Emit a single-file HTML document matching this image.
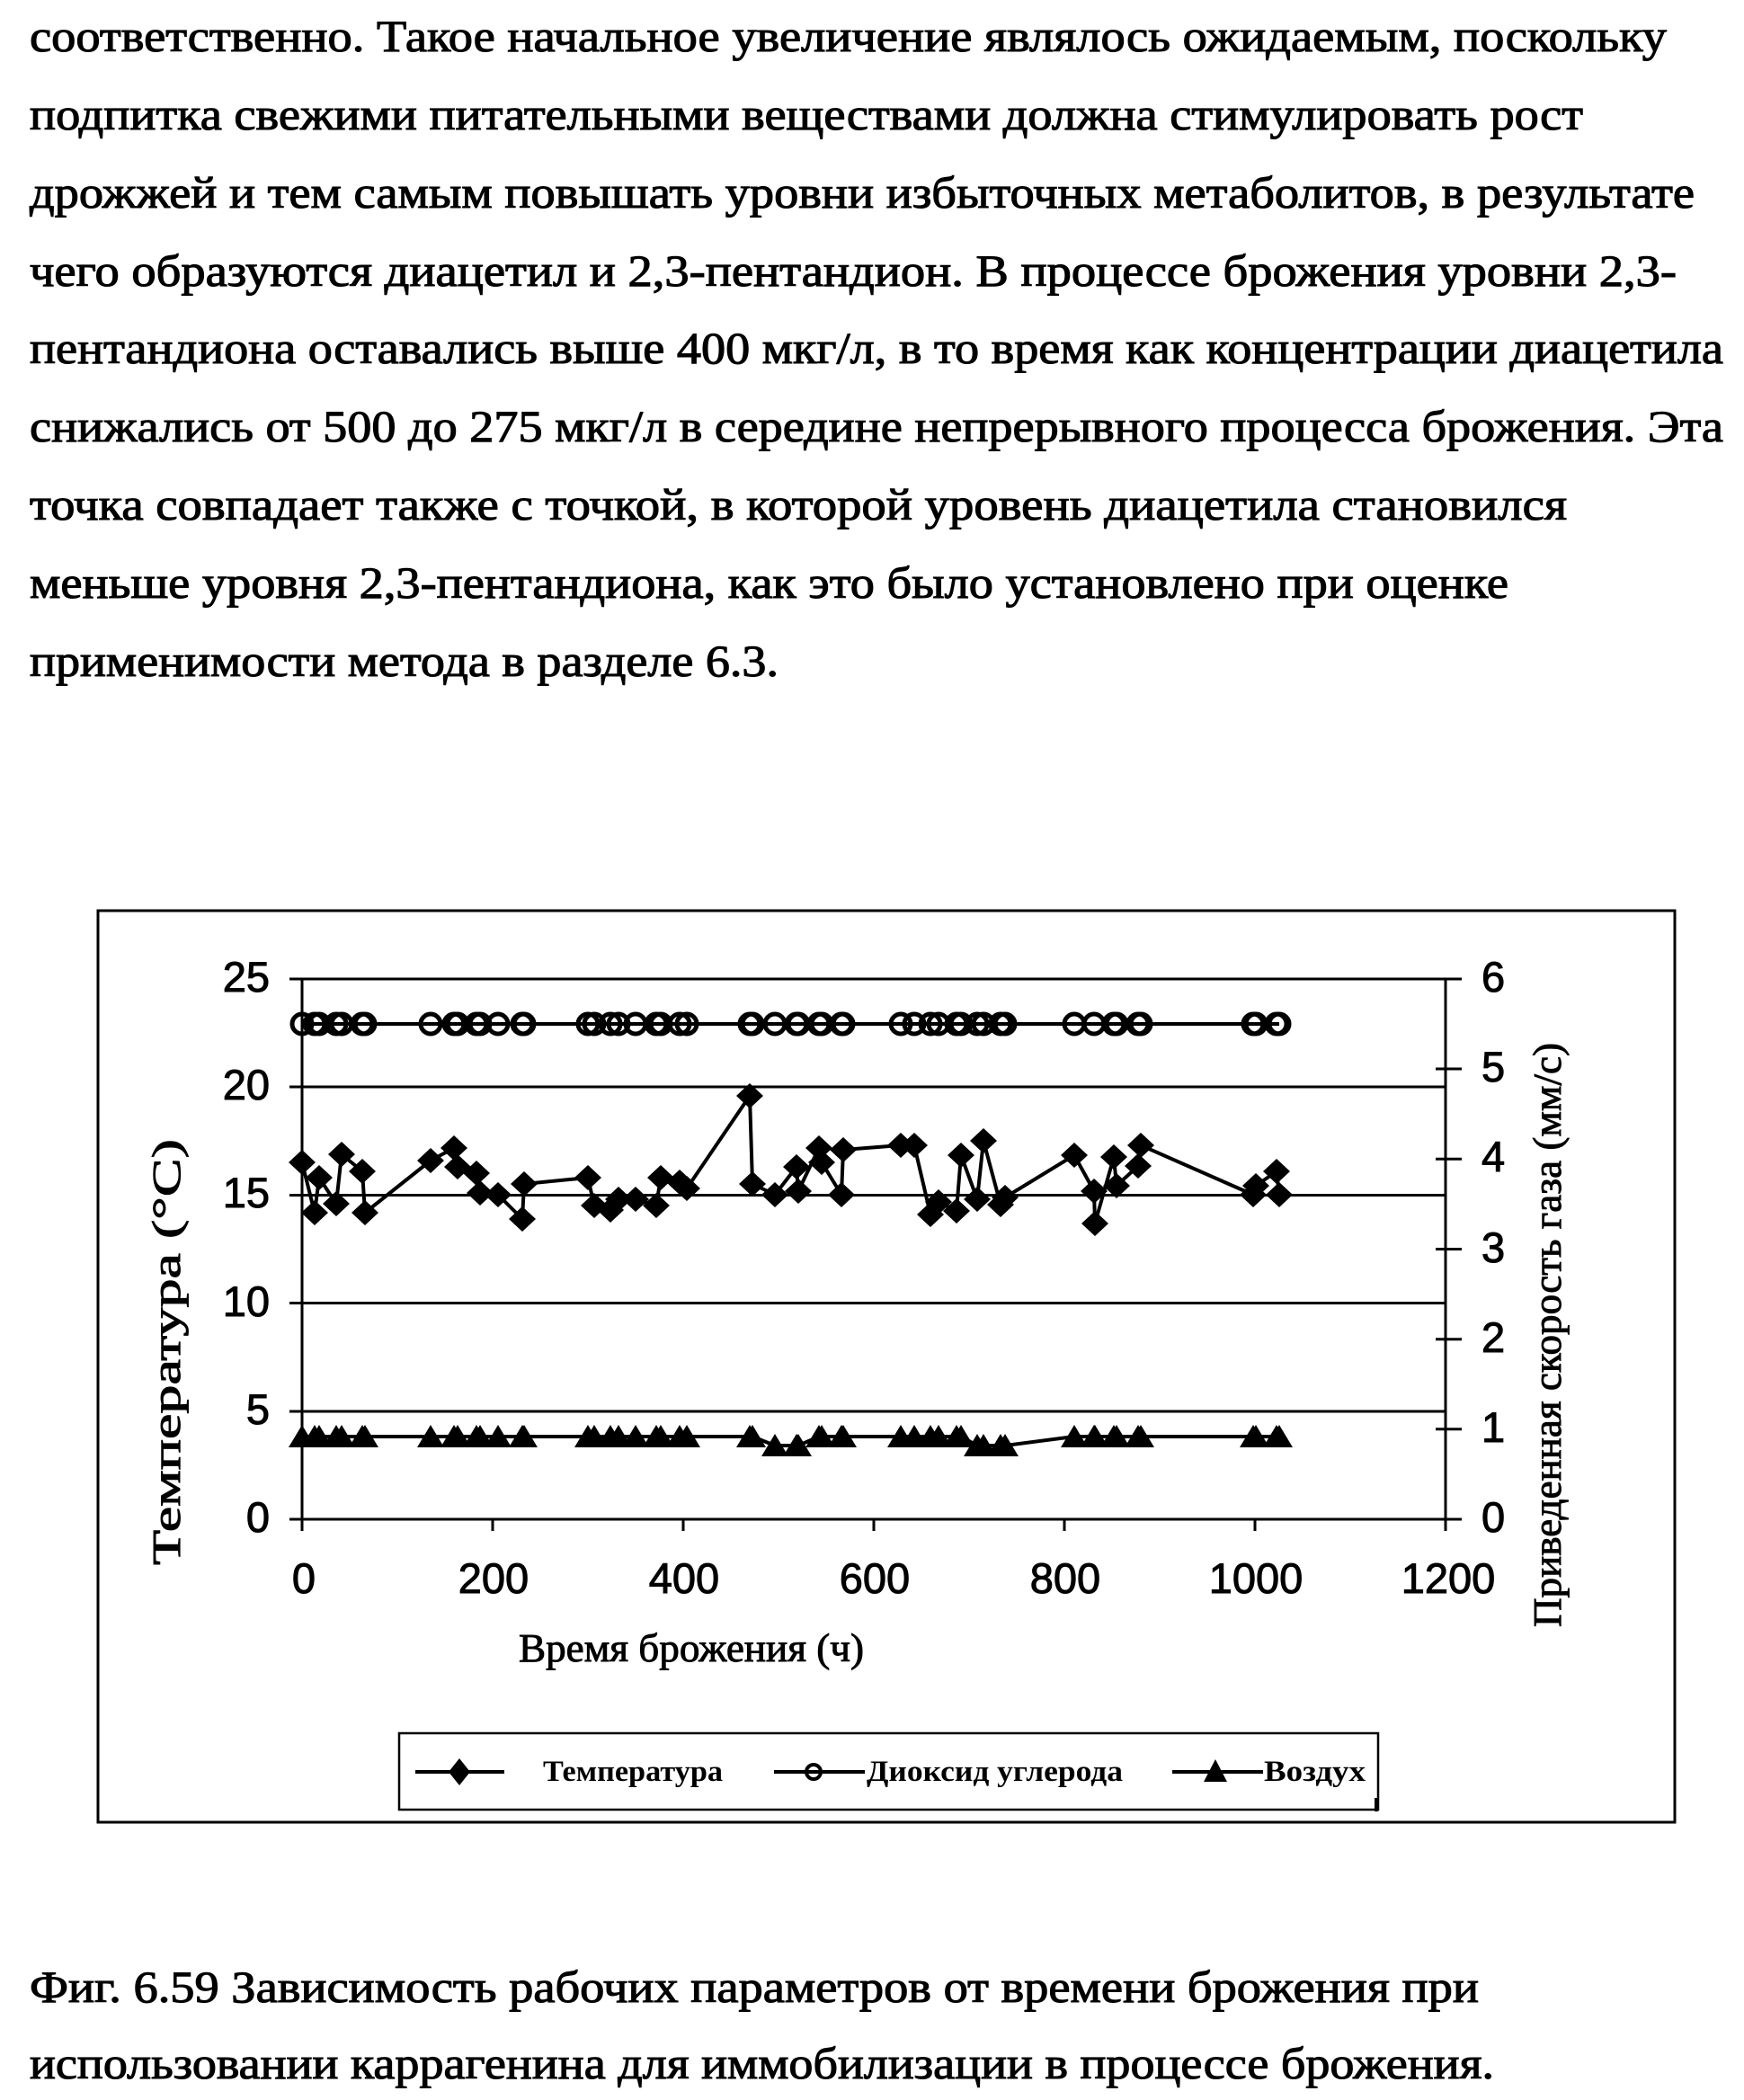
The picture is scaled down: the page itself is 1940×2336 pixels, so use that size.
<!DOCTYPE html>
<html>
<head>
<meta charset="utf-8">
<style>
html,body{margin:0;padding:0;background:#fff;}
svg{display:block;}
</style>
</head>
<body>
<svg width="1940" height="2336" viewBox="0 0 1940 2336" xmlns="http://www.w3.org/2000/svg">
<rect x="0" y="0" width="1940" height="2336" fill="#fff"/>

<!-- Body text -->
<g font-family="'Liberation Serif', 'Noto Serif CJK SC', serif" font-size="50" fill="#000" stroke="#000" stroke-width="1.1">
<text x="33" y="57" textLength="1821" lengthAdjust="spacingAndGlyphs">соответственно. Такое начальное увеличение являлось ожидаемым, поскольку</text>
<text x="33" y="144" textLength="1728" lengthAdjust="spacingAndGlyphs">подпитка свежими питательными веществами должна стимулировать рост</text>
<text x="33" y="231" textLength="1852" lengthAdjust="spacingAndGlyphs">дрожжей и тем самым повышать уровни избыточных метаболитов, в результате</text>
<text x="33" y="318" textLength="1832" lengthAdjust="spacingAndGlyphs">чего образуются диацетил и 2,3-пентандион. В процессе брожения уровни 2,3-</text>
<text x="33" y="404" textLength="1884" lengthAdjust="spacingAndGlyphs">пентандиона оставались выше 400 мкг/л, в то время как концентрации диацетила</text>
<text x="33" y="491" textLength="1884" lengthAdjust="spacingAndGlyphs">снижались от 500 до 275 мкг/л в середине непрерывного процесса брожения. Эта</text>
<text x="33" y="578" textLength="1710" lengthAdjust="spacingAndGlyphs">точка совпадает также с точкой, в которой уровень диацетила становился</text>
<text x="33" y="665" textLength="1645" lengthAdjust="spacingAndGlyphs">меньше уровня 2,3-пентандиона, как это было установлено при оценке</text>
<text x="33" y="752" textLength="833" lengthAdjust="spacingAndGlyphs">применимости метода в разделе 6.3.</text>

<text x="33" y="2227" textLength="1612" lengthAdjust="spacingAndGlyphs">Фиг. 6.59 Зависимость рабочих параметров от времени брожения при</text>
<text x="33" y="2312" textLength="1629" lengthAdjust="spacingAndGlyphs">использовании каррагенина для иммобилизации в процессе брожения.</text>
</g>

<!-- Chart outer box -->
<rect x="109" y="1013" width="1754" height="1014" fill="none" stroke="#000" stroke-width="3"/>

<!-- Gridlines -->
<g stroke="#000" stroke-width="3" fill="none">
<line x1="322" y1="1089" x2="1608" y2="1089"/>
<line x1="322" y1="1209" x2="1608" y2="1209"/>
<line x1="322" y1="1329.5" x2="1608" y2="1329.5"/>
<line x1="322" y1="1449.5" x2="1608" y2="1449.5"/>
<line x1="322" y1="1570" x2="1608" y2="1570"/>
<!-- axes -->
<line x1="336" y1="1087.5" x2="336" y2="1703"/>
<line x1="322" y1="1690" x2="1626" y2="1690"/>
<line x1="1608" y1="1087.5" x2="1608" y2="1703"/>
<!-- x ticks -->
<line x1="548" y1="1690" x2="548" y2="1703"/>
<line x1="760" y1="1690" x2="760" y2="1703"/>
<line x1="972" y1="1690" x2="972" y2="1703"/>
<line x1="1184" y1="1690" x2="1184" y2="1703"/>
<line x1="1396" y1="1690" x2="1396" y2="1703"/>
<!-- right ticks -->
<line x1="1597" y1="1089" x2="1626" y2="1089"/>
<line x1="1597" y1="1189" x2="1626" y2="1189"/>
<line x1="1597" y1="1289.3" x2="1626" y2="1289.3"/>
<line x1="1597" y1="1389.5" x2="1626" y2="1389.5"/>
<line x1="1597" y1="1489.7" x2="1626" y2="1489.7"/>
<line x1="1597" y1="1589.8" x2="1626" y2="1589.8"/>
</g>

<!-- Tick labels -->
<g font-family="'Liberation Sans', Arial, sans-serif" font-size="47" fill="#000" stroke="#000" stroke-width="1">
<text x="300" y="1103" text-anchor="end">25</text>
<text x="300" y="1223" text-anchor="end">20</text>
<text x="300" y="1343" text-anchor="end">15</text>
<text x="300" y="1464" text-anchor="end">10</text>
<text x="300" y="1584" text-anchor="end">5</text>
<text x="300" y="1704" text-anchor="end">0</text>

<text x="1648" y="1103">6</text>
<text x="1648" y="1203">5</text>
<text x="1648" y="1303">4</text>
<text x="1648" y="1404">3</text>
<text x="1648" y="1504">2</text>
<text x="1648" y="1604">1</text>
<text x="1648" y="1704">0</text>

<text x="338" y="1772" text-anchor="middle">0</text>
<text x="549" y="1772" text-anchor="middle">200</text>
<text x="761" y="1772" text-anchor="middle">400</text>
<text x="973" y="1772" text-anchor="middle">600</text>
<text x="1185" y="1772" text-anchor="middle">800</text>
<text x="1397" y="1772" text-anchor="middle">1000</text>
<text x="1611" y="1772" text-anchor="middle">1200</text>
</g>

<!-- Axis titles -->
<g font-family="'Liberation Serif', 'Noto Serif CJK SC', serif" font-size="44" fill="#000" stroke="#000" stroke-width="0.9">
<text x="769" y="1848" text-anchor="middle" textLength="384" lengthAdjust="spacingAndGlyphs">Время брожения (ч)</text>
<text transform="translate(200,1504) rotate(-90)" x="0" y="0" text-anchor="middle" textLength="474" lengthAdjust="spacingAndGlyphs">Температура (°C)</text>
<text transform="translate(1736,1485) rotate(-90)" x="0" y="0" text-anchor="middle" textLength="650" lengthAdjust="spacingAndGlyphs">Приведенная скорость газа (мм/с)</text>
</g>

<!-- Series lines -->
<g fill="none" stroke="#000" stroke-width="4" stroke-linejoin="round">
<polyline points="336,1293 350,1349 355,1310 374,1339 380,1284 403,1303 406,1349 479,1291 505,1277 509,1298 530,1305 534,1327 554,1329 581,1356 583,1317 654,1310 661,1341 679,1346 688,1334 707,1334 730,1341 735,1310 756,1315 764,1322 834,1219 837,1317 862,1329 886,1298 888,1325 911,1277 914,1293 936,1329 938,1279 1002,1274 1017,1274 1035,1351 1044,1337 1064,1347 1069,1285 1087,1334 1094,1269 1113,1340 1118,1332 1195,1285 1217,1325 1218,1361 1239,1287 1242,1319 1266,1297 1269,1274 1394,1329 1397,1319 1420,1303 1423,1329"/>
<line x1="336" y1="1139" x2="1423" y2="1139"/>
<polyline points="336,1598 837,1598 862,1608 888,1608 911,1598 1069,1598 1087,1608 1118,1608 1195,1598 1423,1598"/>
</g>

<!-- Diamonds -->
<path fill="#000" d="M336,1279l15,14l-15,14l-15,-14zM350,1335l15,14l-15,14l-15,-14zM355,1296l15,14l-15,14l-15,-14zM374,1325l15,14l-15,14l-15,-14zM380,1270l15,14l-15,14l-15,-14zM403,1289l15,14l-15,14l-15,-14zM406,1335l15,14l-15,14l-15,-14zM479,1277l15,14l-15,14l-15,-14zM505,1263l15,14l-15,14l-15,-14zM509,1284l15,14l-15,14l-15,-14zM530,1291l15,14l-15,14l-15,-14zM534,1313l15,14l-15,14l-15,-14zM554,1315l15,14l-15,14l-15,-14zM581,1342l15,14l-15,14l-15,-14zM583,1303l15,14l-15,14l-15,-14zM654,1296l15,14l-15,14l-15,-14zM661,1327l15,14l-15,14l-15,-14zM679,1332l15,14l-15,14l-15,-14zM688,1320l15,14l-15,14l-15,-14zM707,1320l15,14l-15,14l-15,-14zM730,1327l15,14l-15,14l-15,-14zM735,1296l15,14l-15,14l-15,-14zM756,1301l15,14l-15,14l-15,-14zM764,1308l15,14l-15,14l-15,-14zM834,1205l15,14l-15,14l-15,-14zM837,1303l15,14l-15,14l-15,-14zM862,1315l15,14l-15,14l-15,-14zM886,1284l15,14l-15,14l-15,-14zM888,1311l15,14l-15,14l-15,-14zM911,1263l15,14l-15,14l-15,-14zM914,1279l15,14l-15,14l-15,-14zM936,1315l15,14l-15,14l-15,-14zM938,1265l15,14l-15,14l-15,-14zM1002,1260l15,14l-15,14l-15,-14zM1017,1260l15,14l-15,14l-15,-14zM1035,1337l15,14l-15,14l-15,-14zM1044,1323l15,14l-15,14l-15,-14zM1064,1333l15,14l-15,14l-15,-14zM1069,1271l15,14l-15,14l-15,-14zM1087,1320l15,14l-15,14l-15,-14zM1094,1255l15,14l-15,14l-15,-14zM1113,1326l15,14l-15,14l-15,-14zM1118,1318l15,14l-15,14l-15,-14zM1195,1271l15,14l-15,14l-15,-14zM1217,1311l15,14l-15,14l-15,-14zM1218,1347l15,14l-15,14l-15,-14zM1239,1273l15,14l-15,14l-15,-14zM1242,1305l15,14l-15,14l-15,-14zM1266,1283l15,14l-15,14l-15,-14zM1269,1260l15,14l-15,14l-15,-14zM1394,1315l15,14l-15,14l-15,-14zM1397,1305l15,14l-15,14l-15,-14zM1420,1289l15,14l-15,14l-15,-14zM1423,1315l15,14l-15,14l-15,-14z"/>

<!-- Triangles -->
<path fill="#000" d="M336,1585l15,25h-30zM350,1585l15,25h-30zM355,1585l15,25h-30zM374,1585l15,25h-30zM380,1585l15,25h-30zM403,1585l15,25h-30zM406,1585l15,25h-30zM479,1585l15,25h-30zM505,1585l15,25h-30zM509,1585l15,25h-30zM530,1585l15,25h-30zM534,1585l15,25h-30zM554,1585l15,25h-30zM581,1585l15,25h-30zM583,1585l15,25h-30zM654,1585l15,25h-30zM661,1585l15,25h-30zM679,1585l15,25h-30zM688,1585l15,25h-30zM707,1585l15,25h-30zM730,1585l15,25h-30zM735,1585l15,25h-30zM756,1585l15,25h-30zM764,1585l15,25h-30zM834,1585l15,25h-30zM837,1585l15,25h-30zM862,1595l15,25h-30zM886,1595l15,25h-30zM888,1595l15,25h-30zM911,1585l15,25h-30zM914,1585l15,25h-30zM936,1585l15,25h-30zM938,1585l15,25h-30zM1002,1585l15,25h-30zM1017,1585l15,25h-30zM1035,1585l15,25h-30zM1044,1585l15,25h-30zM1064,1585l15,25h-30zM1069,1585l15,25h-30zM1087,1595l15,25h-30zM1094,1595l15,25h-30zM1113,1595l15,25h-30zM1118,1595l15,25h-30zM1195,1585l15,25h-30zM1217,1585l15,25h-30zM1218,1585l15,25h-30zM1239,1585l15,25h-30zM1242,1585l15,25h-30zM1266,1585l15,25h-30zM1269,1585l15,25h-30zM1394,1585l15,25h-30zM1397,1585l15,25h-30zM1420,1585l15,25h-30zM1423,1585l15,25h-30z"/>

<!-- Circles -->
<g fill="none" stroke="#000" stroke-width="5">
<circle cx="336" cy="1139" r="11"/><circle cx="350" cy="1139" r="11"/><circle cx="355" cy="1139" r="11"/><circle cx="374" cy="1139" r="11"/><circle cx="380" cy="1139" r="11"/><circle cx="403" cy="1139" r="11"/><circle cx="406" cy="1139" r="11"/>
<circle cx="479" cy="1139" r="11"/><circle cx="505" cy="1139" r="11"/><circle cx="509" cy="1139" r="11"/><circle cx="530" cy="1139" r="11"/><circle cx="534" cy="1139" r="11"/><circle cx="554" cy="1139" r="11"/><circle cx="581" cy="1139" r="11"/><circle cx="583" cy="1139" r="11"/>
<circle cx="654" cy="1139" r="11"/><circle cx="661" cy="1139" r="11"/><circle cx="679" cy="1139" r="11"/><circle cx="688" cy="1139" r="11"/><circle cx="707" cy="1139" r="11"/><circle cx="730" cy="1139" r="11"/><circle cx="735" cy="1139" r="11"/><circle cx="756" cy="1139" r="11"/><circle cx="764" cy="1139" r="11"/>
<circle cx="834" cy="1139" r="11"/><circle cx="837" cy="1139" r="11"/><circle cx="862" cy="1139" r="11"/><circle cx="886" cy="1139" r="11"/><circle cx="888" cy="1139" r="11"/><circle cx="911" cy="1139" r="11"/><circle cx="914" cy="1139" r="11"/><circle cx="936" cy="1139" r="11"/><circle cx="938" cy="1139" r="11"/>
<circle cx="1002" cy="1139" r="11"/><circle cx="1017" cy="1139" r="11"/><circle cx="1035" cy="1139" r="11"/><circle cx="1044" cy="1139" r="11"/><circle cx="1064" cy="1139" r="11"/><circle cx="1069" cy="1139" r="11"/><circle cx="1087" cy="1139" r="11"/><circle cx="1094" cy="1139" r="11"/><circle cx="1113" cy="1139" r="11"/><circle cx="1118" cy="1139" r="11"/>
<circle cx="1195" cy="1139" r="11"/><circle cx="1217" cy="1139" r="11"/><circle cx="1239" cy="1139" r="11"/><circle cx="1242" cy="1139" r="11"/><circle cx="1266" cy="1139" r="11"/><circle cx="1269" cy="1139" r="11"/>
<circle cx="1394" cy="1139" r="11"/><circle cx="1397" cy="1139" r="11"/><circle cx="1420" cy="1139" r="11"/><circle cx="1423" cy="1139" r="11"/>
</g>

<!-- Legend -->
<rect x="444" y="1928" width="1089" height="85" fill="none" stroke="#000" stroke-width="2.5"/>
<line x1="1531" y1="2000" x2="1531" y2="2015" stroke="#000" stroke-width="4"/>
<g stroke="#000" stroke-width="4" fill="none">
<line x1="462" y1="1971" x2="561" y2="1971"/>
<line x1="861" y1="1971" x2="962" y2="1971"/>
<line x1="1304" y1="1971" x2="1405" y2="1971"/>
<circle cx="905" cy="1971" r="8"/>
</g>
<path fill="#000" d="M511,1956l12,15l-12,15l-12,-15z M1352,1957l13,25h-26z"/>
<g font-family="'Liberation Serif', 'Noto Serif CJK SC', serif" font-size="33" font-weight="bold" fill="#000">
<text x="604" y="1981" textLength="200" lengthAdjust="spacingAndGlyphs">Температура</text>
<text x="964" y="1981" textLength="285" lengthAdjust="spacingAndGlyphs">Диоксид углерода</text>
<text x="1406" y="1981" textLength="113" lengthAdjust="spacingAndGlyphs">Воздух</text>
</g>
</svg>
</body>
</html>
